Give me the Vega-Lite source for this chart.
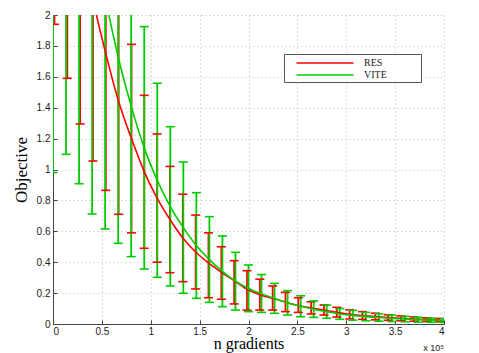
{
  "$schema": "https://vega.github.io/schema/vega-lite/v6.json",
  "width": 391,
  "height": 309,
  "autosize": "none",
  "padding": {"left": 53, "top": 15, "right": 35, "bottom": 29},
  "background": "white",
  "config": {
    "view": {"stroke": null},
    "axis": {
      "labelFont": "Liberation Sans",
      "labelFontSize": 10,
      "labelColor": "#222222",
      "labelOverlap": false,
      "titleFont": "Liberation Serif",
      "titleFontSize": 17,
      "titleFontWeight": "normal",
      "titleColor": "#000000",
      "domainColor": "#444444",
      "tickColor": "#444444",
      "gridColor": "#b8b8b8",
      "gridDash": [1, 3],
      "gridWidth": 1,
      "tickSize": -4,
      "labelPadding": 7
    }
  },
  "data": {
    "values": [
      {"series": "RES", "x": 1500, "mean": 3.6, "lo": 1.94, "hi": 5.26},
      {"series": "RES", "x": 14630, "mean": 3.0, "lo": 1.59, "hi": 4.41},
      {"series": "RES", "x": 27760, "mean": 2.52, "lo": 1.295, "hi": 3.745},
      {"series": "RES", "x": 40890, "mean": 2.1, "lo": 1.055, "hi": 3.145},
      {"series": "RES", "x": 54020, "mean": 1.75, "lo": 0.865, "hi": 2.635},
      {"series": "RES", "x": 67150, "mean": 1.44, "lo": 0.71, "hi": 2.17},
      {"series": "RES", "x": 80280, "mean": 1.2, "lo": 0.59, "hi": 1.81},
      {"series": "RES", "x": 93410, "mean": 0.985, "lo": 0.49, "hi": 1.48},
      {"series": "RES", "x": 106540, "mean": 0.815, "lo": 0.4, "hi": 1.23},
      {"series": "RES", "x": 119670, "mean": 0.676, "lo": 0.332, "hi": 1.02},
      {"series": "RES", "x": 132800, "mean": 0.557, "lo": 0.274, "hi": 0.84},
      {"series": "RES", "x": 145930, "mean": 0.466, "lo": 0.227, "hi": 0.705},
      {"series": "RES", "x": 159060, "mean": 0.395, "lo": 0.17, "hi": 0.59},
      {"series": "RES", "x": 172190, "mean": 0.335, "lo": 0.16, "hi": 0.5},
      {"series": "RES", "x": 185320, "mean": 0.28, "lo": 0.13, "hi": 0.41},
      {"series": "RES", "x": 198450, "mean": 0.225, "lo": 0.09, "hi": 0.345},
      {"series": "RES", "x": 211580, "mean": 0.19, "lo": 0.09, "hi": 0.29},
      {"series": "RES", "x": 224710, "mean": 0.166, "lo": 0.09, "hi": 0.246},
      {"series": "RES", "x": 237840, "mean": 0.142, "lo": 0.08, "hi": 0.205},
      {"series": "RES", "x": 250970, "mean": 0.12, "lo": 0.075, "hi": 0.17},
      {"series": "RES", "x": 264100, "mean": 0.104, "lo": 0.065, "hi": 0.144},
      {"series": "RES", "x": 277230, "mean": 0.09, "lo": 0.058, "hi": 0.123},
      {"series": "RES", "x": 290360, "mean": 0.076, "lo": 0.045, "hi": 0.108},
      {"series": "RES", "x": 303490, "mean": 0.063, "lo": 0.033, "hi": 0.092},
      {"series": "RES", "x": 316620, "mean": 0.055, "lo": 0.03, "hi": 0.08},
      {"series": "RES", "x": 329750, "mean": 0.048, "lo": 0.027, "hi": 0.07},
      {"series": "RES", "x": 342880, "mean": 0.042, "lo": 0.024, "hi": 0.06},
      {"series": "RES", "x": 356010, "mean": 0.037, "lo": 0.021, "hi": 0.053},
      {"series": "RES", "x": 369140, "mean": 0.032, "lo": 0.018, "hi": 0.046},
      {"series": "RES", "x": 382270, "mean": 0.028, "lo": 0.016, "hi": 0.04},
      {"series": "RES", "x": 395400, "mean": 0.025, "lo": 0.014, "hi": 0.036},
      {"series": "VITE", "x": 0, "mean": 4.82, "lo": 0.98, "hi": 8.66},
      {"series": "VITE", "x": 13333, "mean": 4.1, "lo": 1.098, "hi": 7.1},
      {"series": "VITE", "x": 26667, "mean": 3.2, "lo": 0.908, "hi": 5.5},
      {"series": "VITE", "x": 40000, "mean": 2.61, "lo": 0.712, "hi": 4.5},
      {"series": "VITE", "x": 53333, "mean": 2.12, "lo": 0.615, "hi": 3.6},
      {"series": "VITE", "x": 66667, "mean": 1.73, "lo": 0.522, "hi": 2.94},
      {"series": "VITE", "x": 80000, "mean": 1.41, "lo": 0.436, "hi": 2.38},
      {"series": "VITE", "x": 93333, "mean": 1.14, "lo": 0.356, "hi": 1.925},
      {"series": "VITE", "x": 106667, "mean": 0.93, "lo": 0.302, "hi": 1.558},
      {"series": "VITE", "x": 120000, "mean": 0.76, "lo": 0.246, "hi": 1.277},
      {"series": "VITE", "x": 133333, "mean": 0.624, "lo": 0.199, "hi": 1.049},
      {"series": "VITE", "x": 146667, "mean": 0.508, "lo": 0.166, "hi": 0.85},
      {"series": "VITE", "x": 160000, "mean": 0.417, "lo": 0.14, "hi": 0.695},
      {"series": "VITE", "x": 173333, "mean": 0.34, "lo": 0.112, "hi": 0.57},
      {"series": "VITE", "x": 186667, "mean": 0.277, "lo": 0.09, "hi": 0.464},
      {"series": "VITE", "x": 200000, "mean": 0.23, "lo": 0.08, "hi": 0.382},
      {"series": "VITE", "x": 213333, "mean": 0.195, "lo": 0.075, "hi": 0.32},
      {"series": "VITE", "x": 226667, "mean": 0.166, "lo": 0.069, "hi": 0.263},
      {"series": "VITE", "x": 240000, "mean": 0.137, "lo": 0.058, "hi": 0.216},
      {"series": "VITE", "x": 253333, "mean": 0.115, "lo": 0.047, "hi": 0.183},
      {"series": "VITE", "x": 266667, "mean": 0.096, "lo": 0.043, "hi": 0.149},
      {"series": "VITE", "x": 280000, "mean": 0.08, "lo": 0.037, "hi": 0.123},
      {"series": "VITE", "x": 293333, "mean": 0.065, "lo": 0.03, "hi": 0.1},
      {"series": "VITE", "x": 306667, "mean": 0.056, "lo": 0.025, "hi": 0.088},
      {"series": "VITE", "x": 320000, "mean": 0.048, "lo": 0.021, "hi": 0.075},
      {"series": "VITE", "x": 333333, "mean": 0.042, "lo": 0.018, "hi": 0.066},
      {"series": "VITE", "x": 346667, "mean": 0.037, "lo": 0.016, "hi": 0.058},
      {"series": "VITE", "x": 360000, "mean": 0.032, "lo": 0.014, "hi": 0.05},
      {"series": "VITE", "x": 373333, "mean": 0.028, "lo": 0.012, "hi": 0.044},
      {"series": "VITE", "x": 386667, "mean": 0.025, "lo": 0.011, "hi": 0.039},
      {"series": "VITE", "x": 400000, "mean": 0.022, "lo": 0.01, "hi": 0.034}
    ]
  },
  "encoding": {
    "x": {
      "field": "x",
      "type": "quantitative",
      "scale": {"domain": [0, 400000], "nice": false, "zero": false},
      "axis": {
        "title": "n gradients",
        "values": [0, 50000, 100000, 150000, 200000, 250000, 300000, 350000, 400000],
        "tickCount": 9,
        "labelExpr": "format(datum.value / 100000, '~g')",
        "grid": true,
        "labelPadding": 6,
        "titleFontSize": 16,
        "titlePadding": -1
      }
    }
  },
  "layer": [
    {
      "mark": {"type": "rule", "strokeWidth": 1.8, "clip": true},
      "encoding": {
        "y": {
          "field": "lo",
          "type": "quantitative",
          "scale": {"domain": [0, 2], "nice": false},
          "axis": {
            "title": "Objective",
            "values": [0, 0.2, 0.4, 0.6, 0.8, 1, 1.2, 1.4, 1.6, 1.8, 2],
            "tickCount": 11,
            "format": "~g",
            "grid": true,
            "titlePadding": 6
          }
        },
        "y2": {"field": "hi"},
        "color": {
          "field": "series",
          "type": "nominal",
          "scale": {"domain": ["RES", "VITE"], "range": ["#ff0000", "#00cc00"]},
          "legend": {
            "title": null,
            "orient": "none",
            "legendX": 231,
            "legendY": 39,
            "direction": "vertical",
            "symbolType": "M-5,0H5M15.8,0",
            "symbolSize": 130,
            "symbolStrokeWidth": 1.6,
            "labelFont": "Liberation Serif",
            "labelFontSize": 10,
            "labelColor": "#222222",
            "strokeColor": "#555555",
            "fillColor": "white",
            "padding": 2,
            "symbolOffset": 32,
            "labelOffset": 32,
            "rowPadding": 0
          }
        }
      }
    },
    {
      "mark": {"type": "tick", "orient": "horizontal", "size": 9, "thickness": 1.6, "clip": true, "opacity": 1},
      "encoding": {
        "y": {"field": "lo", "type": "quantitative"},
        "color": {"field": "series", "type": "nominal"}
      }
    },
    {
      "mark": {"type": "tick", "orient": "horizontal", "size": 9, "thickness": 1.6, "clip": true, "opacity": 1},
      "encoding": {
        "y": {"field": "hi", "type": "quantitative"},
        "color": {"field": "series", "type": "nominal"}
      }
    },
    {
      "mark": {"type": "line", "strokeWidth": 1.6, "clip": true, "interpolate": "monotone"},
      "encoding": {
        "y": {"field": "mean", "type": "quantitative"},
        "color": {"field": "series", "type": "nominal"}
      }
    },
    {
      "data": {"values": [{"note": "x 10⁵", "nx": 400000, "ny": -0.155}]},
      "mark": {"type": "text", "align": "right", "baseline": "middle", "clip": false, "font": "Liberation Sans", "fontSize": 9, "fill": "#222222"},
      "encoding": {
        "x": {"field": "nx", "type": "quantitative"},
        "y": {"field": "ny", "type": "quantitative"},
        "text": {"field": "note", "type": "nominal"}
      }
    }
  ]
}
